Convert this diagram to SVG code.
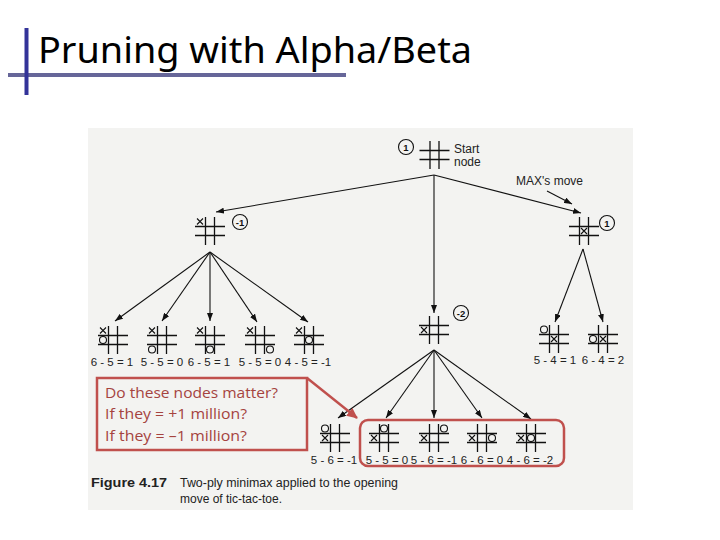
<svg xmlns="http://www.w3.org/2000/svg" xmlns:xlink="http://www.w3.org/1999/xlink" width="720" height="540" viewBox="0 0 720 540">
<style>
.ln{stroke:#111;stroke-width:1.3;fill:none}
.mk{stroke:#111;stroke-width:1.1;fill:none}
.lbl{font-family:"Liberation Sans",Arial,sans-serif;font-size:11.5px;fill:#222;text-anchor:middle}
.num{font-family:"Liberation Sans",Arial,sans-serif;font-size:9.5px;fill:#111;text-anchor:middle;font-weight:bold}
.cap{font-family:"Liberation Sans",Arial,sans-serif;font-size:12px;fill:#222}
.arr{stroke:#111;stroke-width:1.1;fill:none;marker-end:url(#ah)}
.red{stroke:#c0504d;stroke-width:2.5;fill:none}
.rt{font-family:"Open Sans","Liberation Sans",sans-serif;font-size:14.5px;fill:#a5433f}
</style>
<defs>
<marker id="ah" markerUnits="userSpaceOnUse" markerWidth="8" markerHeight="6" refX="8" refY="3" orient="auto"><path d="M0,0L8,3L0,6z" fill="#111"/></marker>
<marker id="rah" markerUnits="userSpaceOnUse" markerWidth="12" markerHeight="10" refX="10" refY="5" orient="auto"><path d="M0,0L11,5L0,10z" fill="#c0504d"/></marker>
<path id="grid" class="ln" d="M-4.5,-14V14M4.5,-14V14M-15,-4.5H15M-15,4.5H15"/>
<path id="xm" class="mk" d="M-3,-3L3,3M3,-3L-3,3"/>
<circle id="om" class="mk" r="3.5"/>
</defs>
<rect width="720" height="540" fill="#ffffff"/>
<rect x="88" y="128" width="545" height="382" fill="#f3f3f1"/>

<g id="title">
<line x1="8" y1="75" x2="346" y2="75" stroke="#666699" stroke-width="4"/>
<line x1="26.5" y1="28" x2="26.5" y2="95" stroke="#333399" stroke-width="4"/>
<text x="38" y="63" font-family="'Noto Sans','Open Sans',sans-serif" font-size="37" fill="#000" textLength="434" lengthAdjust="spacingAndGlyphs">Pruning with Alpha/Beta</text>
</g>

<g id="connectors">
<line class="arr" x1="434" y1="175" x2="216" y2="212"/>
<line class="arr" x1="434" y1="175" x2="434" y2="313"/>
<line class="arr" x1="434" y1="175" x2="581" y2="213"/>
<line class="arr" x1="547" y1="191" x2="572" y2="204"/>
<line class="arr" x1="210" y1="252" x2="115" y2="321"/>
<line class="arr" x1="210" y1="252" x2="162" y2="321"/>
<line class="arr" x1="210" y1="252" x2="210" y2="321"/>
<line class="arr" x1="210" y1="252" x2="257" y2="322"/>
<line class="arr" x1="210" y1="252" x2="308" y2="322"/>
<line class="arr" x1="583" y1="249" x2="555" y2="322"/>
<line class="arr" x1="583" y1="249" x2="603" y2="322"/>
<line class="arr" x1="434" y1="350" x2="338" y2="418"/>
<line class="arr" x1="434" y1="350" x2="386" y2="418"/>
<line class="arr" x1="434" y1="350" x2="434" y2="418"/>
<line class="arr" x1="434" y1="350" x2="482" y2="418"/>
<line class="arr" x1="434" y1="350" x2="531" y2="419"/>
</g>

<g id="root">
<use xlink:href="#grid" x="434.5" y="155"/>
<circle cx="406" cy="147" r="7.5" class="mk"/>
<text class="num" x="406" y="150.5">1</text>
<text class="cap" x="454" y="153" font-size="10.5">Start</text>
<text class="cap" x="454" y="166" font-size="10.5">node</text>
<text class="cap" x="516" y="185" font-size="11">MAX's move</text>
</g>

<g id="n-left">
<use xlink:href="#grid" x="210" y="231"/>
<use xlink:href="#xm" x="200" y="221.5"/>
<circle cx="240" cy="222" r="7.5" class="mk"/>
<text class="num" x="240" y="225.5">-1</text>
</g>

<g id="n-mid">
<use xlink:href="#grid" x="434" y="330"/>
<use xlink:href="#xm" x="424" y="330"/>
<circle cx="461" cy="313" r="7.5" class="mk"/>
<text class="num" x="461" y="316.5">-2</text>
</g>

<g id="n-right">
<use xlink:href="#grid" x="584" y="231"/>
<use xlink:href="#xm" x="584" y="231"/>
<circle cx="607" cy="223" r="7.5" class="mk"/>
<text class="num" x="607" y="226.5">1</text>
</g>

<g id="l1">
<use xlink:href="#grid" x="113" y="340"/>
<use xlink:href="#xm" x="103" y="330.5"/><use xlink:href="#om" x="103" y="340"/>
<text class="lbl" x="112" y="366">6 - 5 = 1</text>
</g>
<g id="l2">
<use xlink:href="#grid" x="162" y="340"/>
<use xlink:href="#xm" x="152" y="330.5"/><use xlink:href="#om" x="152" y="349.5"/>
<text class="lbl" x="162" y="366">5 - 5 = 0</text>
</g>
<g id="l3">
<use xlink:href="#grid" x="210" y="340"/>
<use xlink:href="#xm" x="200" y="330.5"/><use xlink:href="#om" x="210" y="349.5"/>
<text class="lbl" x="209" y="366">6 - 5 = 1</text>
</g>
<g id="l4">
<use xlink:href="#grid" x="260" y="340"/>
<use xlink:href="#xm" x="250" y="330.5"/><use xlink:href="#om" x="270" y="349.5"/>
<text class="lbl" x="260" y="366">5 - 5 = 0</text>
</g>
<g id="l5">
<use xlink:href="#grid" x="309" y="340"/>
<use xlink:href="#xm" x="299" y="330.5"/><use xlink:href="#om" x="309" y="340"/>
<text class="lbl" x="308" y="366">4 - 5 = -1</text>
</g>

<g id="r1">
<use xlink:href="#grid" x="554" y="339"/>
<use xlink:href="#om" x="544" y="329.5"/><use xlink:href="#xm" x="554" y="339"/>
<text class="lbl" x="555" y="364">5 - 4 = 1</text>
</g>
<g id="r2">
<use xlink:href="#grid" x="603" y="339"/>
<use xlink:href="#om" x="593" y="339"/><use xlink:href="#xm" x="603" y="339"/>
<text class="lbl" x="603" y="364">6 - 4 = 2</text>
</g>

<g id="m1">
<use xlink:href="#grid" x="335" y="438"/>
<use xlink:href="#om" x="325" y="428.5"/><use xlink:href="#xm" x="325" y="438"/>
<text class="lbl" x="334" y="464" font-size="11">5 - 6 = -1</text>
</g>
<g id="m2">
<use xlink:href="#grid" x="384" y="438"/>
<use xlink:href="#xm" x="374" y="438"/><use xlink:href="#om" x="384" y="428.5"/>
<text class="lbl" x="387" y="464" font-size="11">5 - 5 = 0</text>
</g>
<g id="m3">
<use xlink:href="#grid" x="434" y="438"/>
<use xlink:href="#xm" x="424" y="438"/><use xlink:href="#om" x="444" y="428.5"/>
<text class="lbl" x="434" y="464" font-size="11">5 - 6 = -1</text>
</g>
<g id="m4">
<use xlink:href="#grid" x="482" y="438"/>
<use xlink:href="#xm" x="472" y="438"/><use xlink:href="#om" x="492" y="438"/>
<text class="lbl" x="482" y="464" font-size="11">6 - 6 = 0</text>
</g>
<g id="m5">
<use xlink:href="#grid" x="531" y="438"/>
<use xlink:href="#xm" x="521" y="438"/><use xlink:href="#om" x="531" y="438"/>
<text class="lbl" x="530" y="464" font-size="11">4 - 6 = -2</text>
</g>

<g id="caption">
<text class="cap" x="91" y="487" font-weight="bold" font-size="12.5" textLength="76" lengthAdjust="spacingAndGlyphs">Figure 4.17</text>
<text class="cap" x="180" y="487" textLength="218" lengthAdjust="spacingAndGlyphs">Two-ply minimax applied to the opening</text>
<text class="cap" x="180" y="503">move of tic-tac-toe.</text>
</g>

<g id="highlight">
<rect class="red" x="360" y="420" width="204" height="46" rx="8"/>
</g>

<g id="callout">
<rect class="red" x="97" y="378" width="210" height="72"/>
<line class="red" x1="307" y1="378" x2="357" y2="418" marker-end="url(#rah)"/>
<text class="rt" x="105" y="398" textLength="173" lengthAdjust="spacingAndGlyphs">Do these nodes matter?</text>
<text class="rt" x="105" y="419" textLength="142" lengthAdjust="spacingAndGlyphs">If they = +1 million?</text>
<text class="rt" x="105" y="441" textLength="142" lengthAdjust="spacingAndGlyphs">If they = –1 million?</text>
</g>
</svg>
